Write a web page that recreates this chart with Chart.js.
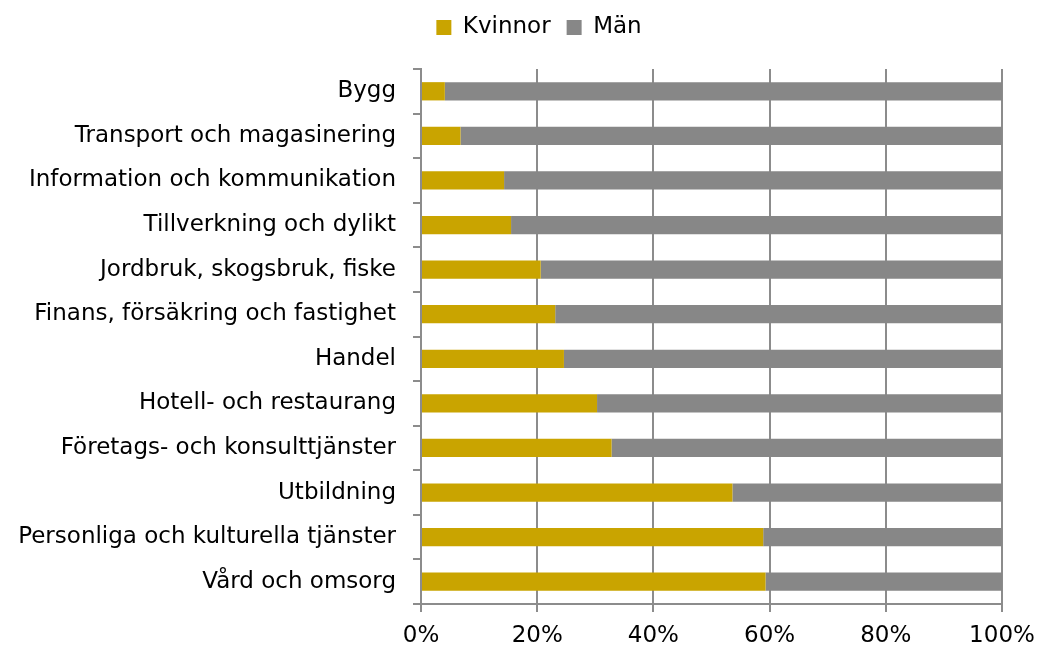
<!DOCTYPE html>
<html>
<head>
<meta charset="utf-8">
<script src="https://cdn.jsdelivr.net/npm/chart.js@4"></script>
<style>
html,body{margin:0;padding:0;background:#fff;}
#wrap{width:1038px;height:651px;position:relative;}
</style>
</head>
<body>
<div id="wrap"><canvas id="c" width="1038" height="651"></canvas></div>
<script>
const categories = ["Bygg","Transport och magasinering","Information och kommunikation","Tillverkning och dylikt","Jordbruk, skogsbruk, fiske","Finans, försäkring och fastighet","Handel","Hotell- och restaurang","Företags- och konsulttjänster","Utbildning","Personliga och kulturella tjänster","Vård och omsorg"];
const kvinnor = [4.1, 6.8, 14.3, 15.5, 20.6, 23.1, 24.6, 30.3, 32.8, 53.6, 58.9, 59.3];
const man = kvinnor.map(v => 100 - v);
const xTicks = [0, 20, 40, 60, 80, 100];

const FONT = "DejaVu Sans";
const FS = 23;
Chart.defaults.font.family = FONT;
Chart.defaults.color = "#000";

const legendTweak = {
  id: 'legendTweak',
  beforeInit(chart) {
    const lg = chart.legend;
    const orig = lg.fit;
    lg.fit = function() { orig.call(this); this.height += 20; };
  },
  afterLayout(chart) {
    chart.legend.left += 38;
    chart.legend.right += 38;
  }
};

new Chart(document.getElementById('c'), {
  type: 'bar',
  data: {
    labels: categories,
    datasets: [
      {label: 'Kvinnor', data: kvinnor, backgroundColor: '#C9A400', barPercentage: 0.41, categoryPercentage: 1.0},
      {label: 'Män', data: man, backgroundColor: '#878787', barPercentage: 0.41, categoryPercentage: 1.0}
    ]
  },
  plugins: [legendTweak],
  options: {
    indexAxis: 'y',
    responsive: false,
    animation: false,
    layout: {padding: {left: 0, right: 36, top: 0, bottom: 0}},
    plugins: {
      legend: {
        position: 'top',
        labels: {boxWidth: 15, boxHeight: 15, font: {size: FS}, padding: 16, color: '#000'}
      },
      tooltip: {enabled: false}
    },
    scales: {
      x: {
        stacked: true,
        min: 0, max: 100,
        afterBuildTicks: (axis) => { axis.ticks = xTicks.map(v => ({value: v})); },
        afterFit: (s) => { s.height = 47; s.paddingRight = 0; s.paddingLeft = 0; },
        ticks: {callback: v => v + '%', font: {size: FS}, color: '#000', padding: 10},
        grid: {color: '#8c8c8c', lineWidth: 2, tickLength: 8},
        border: {color: '#8c8c8c', width: 2}
      },
      y: {
        stacked: true,
        afterFit: (s) => { s.width = 421; },
        ticks: {font: {size: FS}, color: '#000', padding: 17},
        grid: {drawOnChartArea: false, color: '#8c8c8c', lineWidth: 2, tickLength: 8, offset: true},
        border: {color: '#8c8c8c', width: 2}
      }
    }
  }
});
</script>
</body>
</html>
